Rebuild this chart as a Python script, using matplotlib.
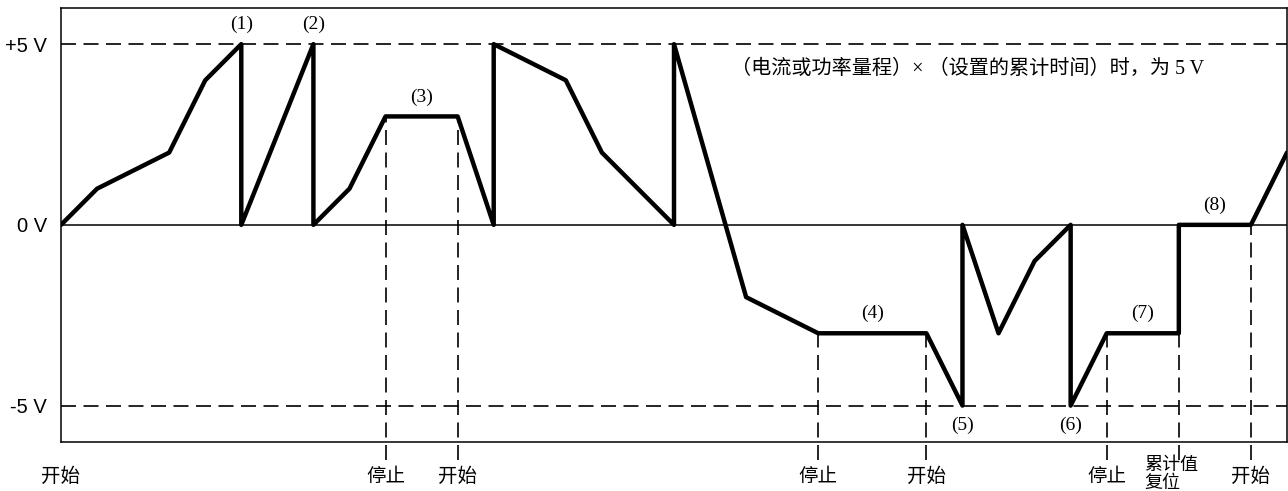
#!/usr/bin/env python3

import matplotlib
matplotlib.use("Agg")
import matplotlib.pyplot as plt

# Analog output waveform (time in arbitrary units, volts)
times = [0, 1, 3, 4, 5, 5, 7, 7, 8, 9, 11, 12, 12, 14, 15, 17, 17, 19, 21,
         24, 25, 25, 26, 27, 28, 28, 29, 31, 31, 33, 34]
volts = [0, 1, 2, 4, 5, 0, 5, 0, 1, 3, 3, 0, 5, 4, 2, 0, 5, -2, -3,
         -3, -5, 0, -3, -1, 0, -5, -3, -3, 0, 0, 2]

# Stop / start / reset events (time, level where the dashed marker starts)
event_times = [9, 11, 21, 24, 29, 31, 33]
event_levels = [3, 3, -3, -3, -3, -3, 0]
event_labels = ["停止", "开始", "停止", "开始", "停止", "累计值\n复位", "开始"]

# Numbered markers: (label, x, y, above?)
marker_labels = ["(1)", "(2)", "(3)", "(4)", "(5)", "(6)", "(7)", "(8)"]
marker_x = [5, 7, 10, 22.5, 25, 28, 30, 32]
marker_y = [5, 5, 3, -3, -5, -5, -3, 0]
marker_above = [True, True, True, True, False, False, True, True]

ytick_vals = [5, 0, -5]
ytick_text = ["+5 V", "0 V", "-5 V"]

note = "（电流或功率量程）× （设置的累计时间）时，为 5 V"

serif = ["Liberation Serif", "Noto Sans CJK SC", "DejaVu Sans"]
cjk = ["Noto Sans CJK SC", "DejaVu Sans"]

fig = plt.figure(figsize=(12.88, 4.91), dpi=100)
ax = fig.add_axes([61 / 1288, 1 - 441.7 / 491, 1226 / 1288, 433.7 / 491])

ax.set_xlim(0, 34)
ax.set_ylim(-6, 6)

# reference lines
ax.axhline(0, color="black", lw=1.1, zorder=1)
for lvl in (5, -5):
    ax.axhline(lvl, color="black", lw=1.2, linestyle=(0, (9, 4.5)), zorder=1)

# event markers, running below the axes
ax.vlines(event_times, -6.5, event_levels, colors="black", lw=1.2,
          linestyles=[(0, (9, 4.5))], clip_on=False, zorder=1)

# waveform
ax.plot(times, volts, color="black", lw=3.2, solid_joinstyle="round",
        solid_capstyle="round", zorder=3, clip_on=True)

# y labels
ax.set_yticks(ytick_vals)
ax.set_yticklabels(ytick_text, family=["Liberation Sans", "DejaVu Sans"], fontsize=14.5)
ax.tick_params(axis="y", length=0, pad=10)
ax.set_xticks([])

for sp in ax.spines.values():
    sp.set_linewidth(1.1)

# numbered markers
for lab, x, y, up in zip(marker_labels, marker_x, marker_y, marker_above):
    ax.annotate(lab, (x, y), xytext=(0, 14 if up else -14), textcoords="offset points",
                ha="center", va="center", fontsize=14, family=serif)

# event labels under the axis
ax.annotate("开始", (0, 0), xycoords=("data", "axes fraction"),
            xytext=(0, -25), textcoords="offset points",
            ha="center", va="center", fontsize=14, family=cjk, annotation_clip=False)
for t, lab in zip(event_times, event_labels):
    if "\n" in lab:
        ax.annotate(lab, (t, 0), xycoords=("data", "axes fraction"),
                    xytext=(-25, -10), textcoords="offset points",
                    ha="left", va="top", fontsize=13, family=cjk,
                    linespacing=1.0, annotation_clip=False)
    else:
        ax.annotate(lab, (t, 0), xycoords=("data", "axes fraction"),
                    xytext=(0, -25), textcoords="offset points",
                    ha="center", va="center", fontsize=14, family=cjk,
                    annotation_clip=False)

ax.text(25.15, 4.3, note, ha="center", va="center", fontsize=14.5, family=serif)

fig.savefig("out.png", dpi=100)
